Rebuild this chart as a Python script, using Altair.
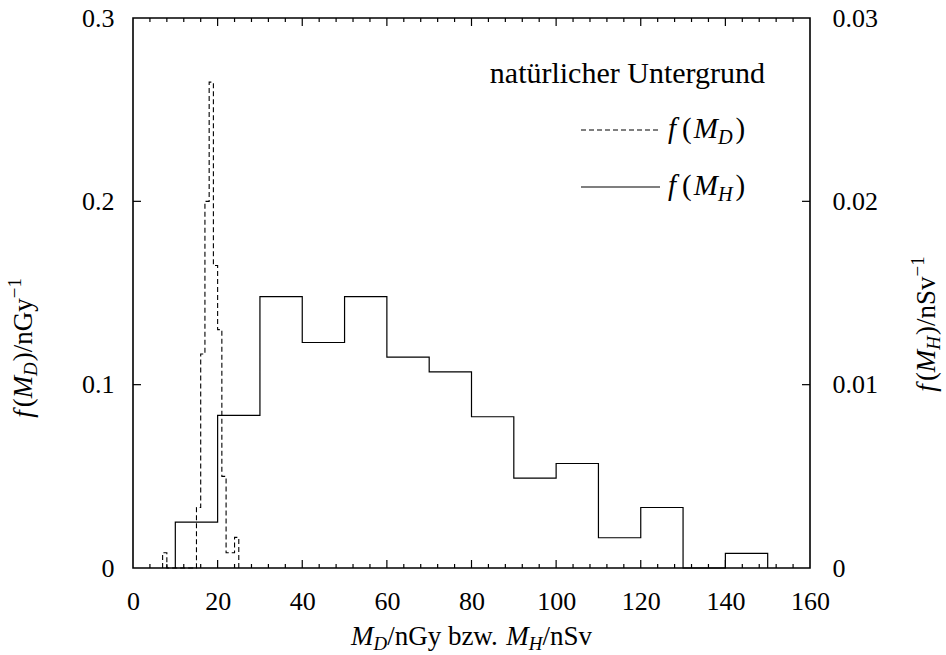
import altair as alt
import pandas as pd

# ---------------- data ----------------
# f(M_D): dose histogram, bins of width 1 nGy (left edges), density in 1/nGy
md_left = [7, 8, 9, 10, 11, 12, 13, 14, 15, 16, 17, 18, 19, 20, 21, 22, 23, 24]
md_vals = [0.0083, 0, 0, 0, 0, 0, 0, 0, 0.033, 0.1167, 0.20, 0.265, 0.165, 0.13, 0.05, 0.0083, 0.0083, 0.0167]
md_width = 1

# f(M_H): dose-equivalent histogram, bins of width 10 nSv (left edges), density in 1/nSv
mh_left = [10, 20, 30, 40, 50, 60, 70, 80, 90, 100, 110, 120, 130, 140]
mh_vals = [0.0025, 0.00833, 0.0148, 0.0123, 0.0148, 0.0115, 0.0107, 0.00825, 0.0049, 0.0057, 0.00165, 0.0033, 0.0, 0.0008]
mh_width = 10

x_labels = [0, 20, 40, 60, 80, 100, 120, 140, 160]
x_major = [20, 40, 60, 80, 100, 120, 140]
x_minor = [v for v in range(4, 160, 4) if v % 20 != 0]
y_left_labels = [0, 0.1, 0.2, 0.3]
y_right_labels = [0, 0.01, 0.02, 0.03]
y_left_ticks = [0.1, 0.2]

# ---------------- layout ----------------
W, H = 677, 550
PAD_L, PAD_T = 133, 18
FONT = "Liberation Serif"
FS_TICK = 26
BLACK = "black"


def step_frame(lefts, vals, width):
    xs = [lefts[0]] + list(lefts) + [lefts[-1] + width]
    ys = [0] + list(vals) + [0]
    return pd.DataFrame({"x": xs, "y": ys, "i": list(range(len(xs)))})


X = alt.X(
    "x:Q",
    scale=alt.Scale(domain=[0, 160], nice=False, zero=False),
    axis=alt.Axis(values=x_labels, title=None, labelPadding=20,
                  labelFlush=False, labelOverlap=False, format="d"),
)

dashed = alt.Chart(step_frame(md_left, md_vals, md_width)).mark_line(
    interpolate="step-after", color=BLACK, strokeWidth=1.1, strokeDash=[5, 3]
).encode(
    x=X,
    y=alt.Y("y:Q", scale=alt.Scale(domain=[0, 0.3], nice=False),
            axis=alt.Axis(orient="left", values=y_left_labels, title=None, labelPadding=19,
                          labelExpr="datum.value == 0 ? '0' : format(datum.value, '.1f')")),
    order="i:Q",
)

solid = alt.Chart(step_frame(mh_left, mh_vals, mh_width)).mark_line(
    interpolate="step-after", color=BLACK, strokeWidth=1.2
).encode(
    x=X,
    y=alt.Y("y:Q", scale=alt.Scale(domain=[0, 0.03], nice=False),
            axis=alt.Axis(orient="right", values=y_right_labels, title=None, labelPadding=22,
                          labelExpr="datum.value == 0 ? '0' : format(datum.value, '.2f')")),
    order="i:Q",
)

layers = [dashed, solid]

# inward ticks on x (bottom and top)
for vals, ln in ((x_major, 8), (x_minor, 4)):
    df = pd.DataFrame({"x": vals})
    layers.append(alt.Chart(df).mark_rule(color=BLACK, strokeWidth=1.2).encode(
        x=X, y=alt.value(H), y2=alt.value(H - ln)))
    layers.append(alt.Chart(df).mark_rule(color=BLACK, strokeWidth=1.2).encode(
        x=X, y=alt.value(0), y2=alt.value(ln)))

# inward ticks on y (left and right share positions)
dfy = pd.DataFrame({"y": y_left_ticks})
for x1, x2 in ((0, 8), (W, W - 8)):
    layers.append(alt.Chart(dfy).mark_rule(color=BLACK, strokeWidth=1.2).encode(
        y=alt.Y("y:Q", scale=alt.Scale(domain=[0, 0.3], nice=False), axis=None),
        x=alt.value(x1), x2=alt.value(x2)))

# ---------------- composed (math-like) text ----------------
W_RM = {'(': 333, ')': 333, '/': 278, 'n': 500, 'G': 722, 'y': 500, ' ': 250, 'b': 500, 'z': 444,
        'w': 722, '.': 250, 'S': 556, 'v': 500, '−': 564, '1': 500}
W_IT = {'f': 278, 'M': 833, 'D': 722, 'H': 722}
one = pd.DataFrame({"k": [0]})


def piece_width(text, style, fs):
    table = W_IT if style in ("it", "sub") else W_RM
    size = fs * 0.7 if style in ("sub", "sup") else fs
    return sum(table.get(c, 500) for c in text) / 1000 * size


def total_width(pieces, fs):
    return sum(piece_width(t, s, fs) + k for t, s, k in pieces)


def place(pieces, start, base, fs, vertical=False):
    pos = start
    out = []
    for t, s, k in pieces:
        size = fs * 0.7 if s in ("sub", "sup") else fs
        shift = {"sub": 0.2 * fs, "sup": -0.42 * fs}.get(s, 0)
        italic = "italic" if s in ("it", "sub") else "normal"
        if vertical:
            enc = dict(x=alt.value(base + shift), y=alt.value(pos))
        else:
            enc = dict(x=alt.value(pos), y=alt.value(base + shift))
        out.append(alt.Chart(one).mark_text(
            text=t, font=FONT, fontSize=size, fontStyle=italic, color=BLACK,
            align="left", baseline="alphabetic", angle=270 if vertical else 0).encode(**enc))
        step = piece_width(t, s, fs) + k
        pos = pos - step if vertical else pos + step
    return out


def fm(sub, k=(3, 0, 1)):
    return [("f", "it", k[0]), ("(", "rm", k[1]), ("M", "it", 0), (sub, "sub", k[2]), (")", "rm", 0)]


# x title (centred under the plot)
FS_T = 27
xt = [("M", "it", 0), ("D", "sub", 0), ("/nGy bzw. ", "rm", 0),
      ("M", "it", 0), ("H", "sub", 0), ("/nSv", "rm", 0)]
layers += place(xt, W / 2 - total_width(xt, FS_T) / 2, 627, FS_T)

# left and right y titles (reading upward)
lt = fm("D") + [("/nGy", "rm", 0), ("−1", "sup", 0)]
rt = fm("H") + [("/nSv", "rm", 0), ("−1", "sup", 0)]
layers += place(lt, 330 + total_width(lt, FS_T) / 2, -101, FS_T, vertical=True)
layers += place(rt, 306 + total_width(rt, FS_T) / 2, 802, FS_T, vertical=True)

# legend
layers.append(alt.Chart(one).mark_text(
    text="natürlicher Untergrund", font=FONT, fontSize=30, color=BLACK,
    align="right", baseline="alphabetic").encode(x=alt.value(632), y=alt.value(65)))
layers.append(alt.Chart(one).mark_rule(color=BLACK, strokeWidth=1.1, strokeDash=[5, 3]).encode(
    x=alt.value(448), x2=alt.value(527), y=alt.value(112)))
layers.append(alt.Chart(one).mark_rule(color=BLACK, strokeWidth=1.2).encode(
    x=alt.value(448), x2=alt.value(527), y=alt.value(169)))
layers += place(fm("D", (6, 2, 3)), 535, 120, 29)
layers += place(fm("H", (6, 2, 3)), 535, 177, 29)

chart = alt.layer(*layers).resolve_scale(y="independent").properties(
    width=W, height=H,
    autosize=alt.AutoSizeParams(type="none"),
    padding={"left": PAD_L, "top": PAD_T, "right": 946 - PAD_L - W, "bottom": 655 - PAD_T - H},
).configure_view(stroke=BLACK, strokeWidth=1.6).configure_axis(
    labelFont=FONT, labelFontSize=FS_TICK, labelColor=BLACK, ticks=False, tickSize=0,
    domain=False, grid=False,
)

chart.save("out.html", embed_options={"renderer": "svg", "actions": False})
